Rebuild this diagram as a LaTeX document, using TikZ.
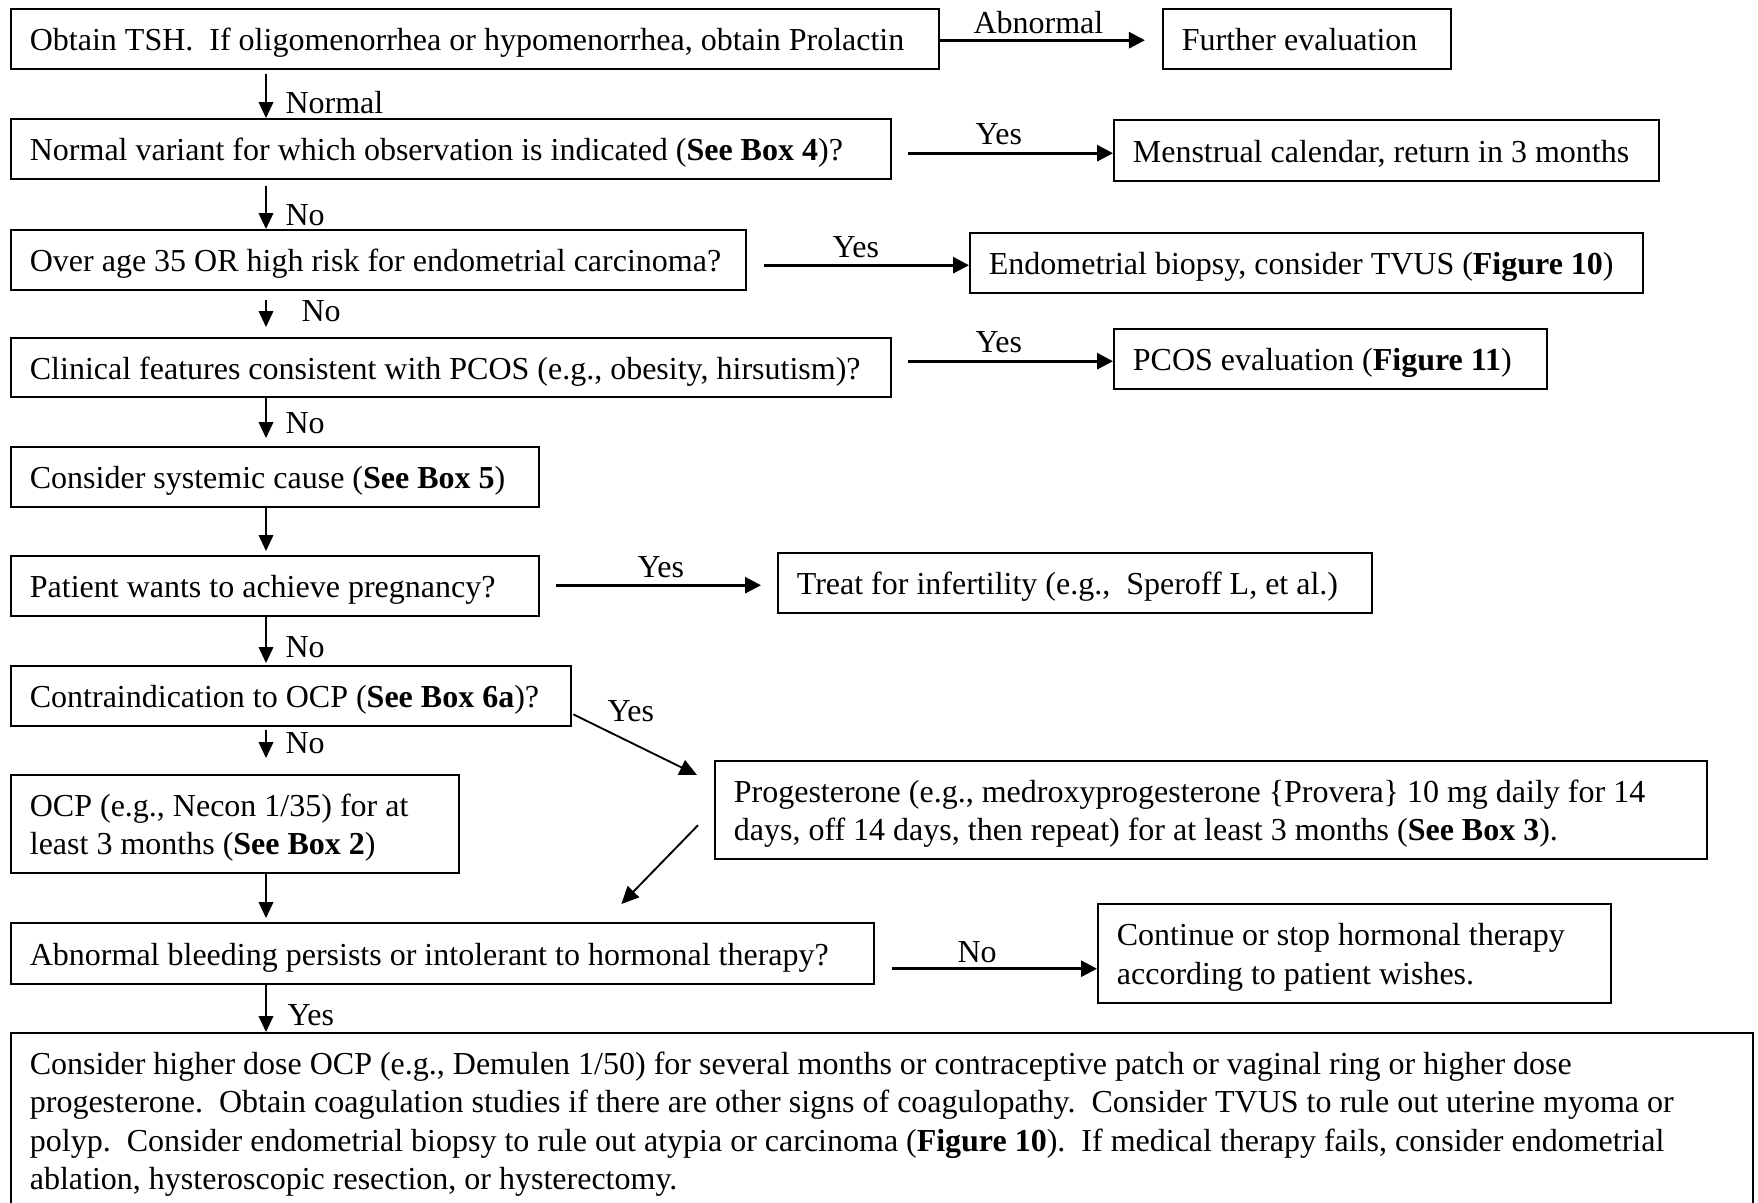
\documentclass[tikz,border=0pt]{standalone}
\usepackage{fontspec}
\setmainfont{Liberation Serif}
\usetikzlibrary{arrows.meta,calc}

\begin{document}
\begin{tikzpicture}[x=0.375pt, y=-0.375pt,
  txt/.style={font=\fontsize{12pt}{14.4pt}\selectfont},
  box/.style={txt, draw, line width=0.9pt, anchor=north west, inner xsep=7pt,
    inner ysep=0pt, align=left, text height=10pt, text depth=1.4pt,
    execute at begin node={\spaceskip=0pt\xspaceskip=0pt\frenchspacing\hyphenpenalty=10000}},
  twoline/.style={text height=8pt, text depth=13.8pt},
  lbl/.style={txt, anchor=base west, inner sep=0pt},
  varrow/.style={line width=0.6pt, -{Triangle[length=6pt, width=5.5pt]}},
  harrow/.style={line width=1.1pt, -{Triangle[length=6pt, width=6pt]}},
  darrow/.style={line width=0.7pt, -{Triangle[length=6.5pt, width=6pt]}}]

\fill[white] (0,0) rectangle (1758,1202);
\useasboundingbox (0,0) rectangle (1758,1202);

% main column
\node[box, text width=334pt, minimum height=22.5pt] (b1) at (10,8)
  {Obtain TSH.\ \ If oligomenorrhea or hypomenorrhea, obtain Prolactin};
\node[box, text width=316pt, minimum height=22.5pt] (b2) at (10,118)
  {Normal variant for which observation is indicated (\textbf{See Box 4})?};
\node[box, text width=261.625pt, minimum height=22.5pt] (b3) at (10,229)
  {Over age 35 OR high risk for endometrial carcinoma?};
\node[box, text width=316pt, minimum height=22.125pt] (b4) at (10,337)
  {Clinical features consistent with PCOS (e.g., obesity, hirsutism)?};
\node[box, text width=184pt, minimum height=22.5pt] (b5) at (10,446)
  {Consider systemic cause (\textbf{See Box 5})};
\node[box, text width=184pt, minimum height=22.5pt] (b6) at (10,555)
  {Patient wants to achieve pregnancy?};
\node[box, text width=196pt, minimum height=22.5pt] (b7) at (10,665)
  {Contraindication to OCP (\textbf{See Box 6a})?};
\node[box, twoline, text width=154pt, minimum height=36.75pt] (b8) at (10,774)
  {OCP (e.g., Necon 1/35) for at\\least 3 months (\textbf{See Box 2})};
\node[box, text width=309.625pt, minimum height=22.875pt] (b10) at (10,922)
  {Abnormal bleeding persists or intolerant to hormonal therapy?};
\node[box, text width=639.25pt, text height=15.4pt, text depth=80pt] (bF) at (10,1032)
  {Consider higher dose OCP (e.g., Demulen 1/50) for several months or contraceptive patch or vaginal ring or higher dose\\
   progesterone.\ \ Obtain coagulation studies if there are other signs of coagulopathy.\ \ Consider TVUS to rule out uterine myoma or\\
   polyp.\ \ Consider endometrial biopsy to rule out atypia or carcinoma (\textbf{Figure 10}).\ \ If medical therapy fails, consider endometrial\\
   ablation, hysteroscopic resection, or hysterectomy.};

% side outcomes
\node[box, text width=94pt, minimum height=22.5pt] (bFE) at (1162,8)
  {Further evaluation};
\node[box, text width=190.375pt, minimum height=22.875pt] (bMC) at (1113,119)
  {Menstrual calendar, return in 3 months};
\node[box, text width=238.375pt, minimum height=22.5pt] (bEB) at (969,232)
  {Endometrial biopsy, consider TVUS (\textbf{Figure 10})};
\node[box, text width=148.375pt, minimum height=22.5pt] (bPC) at (1113,328)
  {PCOS evaluation (\textbf{Figure 11})};
\node[box, text width=208.75pt, minimum height=22.5pt] (bTI) at (777,552)
  {Treat for infertility (e.g.,\ \ Speroff L, et al.)};
\node[box, twoline, text width=358pt, minimum height=36.75pt] (bPR) at (714,760)
  {Progesterone (e.g., medroxyprogesterone \{Provera\} 10 mg daily for 14\\days, off 14 days, then repeat) for at least 3 months (\textbf{See Box 3}).};
\node[box, twoline, text width=178.375pt, minimum height=37.125pt] (bCO) at (1097,903)
  {Continue or stop hormonal therapy\\according to patient wishes.};

% vertical connectors
\coordinate (spine) at (266,0);
\draw[varrow, shorten <=1.5pt] (b1.south -| spine) -- (b2.north -| spine);
\draw[varrow, shorten <=2.25pt] (b2.south -| spine) -- (b3.north -| spine);
\draw[varrow, shorten <=3.4pt, shorten >=3.75pt] (b3.south -| spine) -- (b4.north -| spine);
\draw[varrow, shorten >=3pt] (b4.south -| spine) -- (b5.north -| spine);
\draw[varrow, shorten >=1.5pt] (b5.south -| spine) -- (b6.north -| spine);
\draw[varrow, shorten >=0.75pt] (b6.south -| spine) -- (b7.north -| spine);
\draw[varrow, shorten <=1.1pt, shorten >=6pt] (b7.south -| spine) -- (b8.north -| spine);
\draw[varrow, shorten >=1.5pt] (b8.south -| spine) -- (b10.north -| spine);
\draw[varrow] (b10.south -| spine) -- (bF.north -| spine);

% horizontal connectors
\draw[harrow, shorten >=6.4pt] ($(b1.east)+(0,1)$) -- ($(bFE.west)+(0,1)$);
\draw[harrow, shorten <=6pt] ($(b2.east |- bMC.west)+(0,2.5)$) -- ($(bMC.west)+(0,2.5)$);
\draw[harrow, shorten <=6.4pt] ($(b3.east |- bEB.west)+(0,2)$) -- ($(bEB.west)+(0,2)$);
\draw[harrow, shorten <=6pt] ($(b4.east |- bPC.west)+(0,2)$) -- ($(bPC.west)+(0,2)$);
\draw[harrow, shorten <=6pt, shorten >=6pt] ($(b6.east |- bTI.west)+(0,2)$) -- ($(bTI.west)+(0,2)$);
\draw[harrow, shorten <=6.4pt] ($(b10.east)+(0,15)$) -- ($(bCO.west)+(0,15)$);

% diagonal connectors
\draw[darrow] ($(b7.south east)+(1,-13)$) -- ($(bPR.north west)+(-17,15)$);
\draw[darrow] ($(bPR.west)+(-16,15)$) -- ($(b10.north east)+(-254,-18)$);

% connector labels
\node[lbl] (lAbn) at (973,33) {Abnormal};
\node[lbl] (lNormal) at (285,113) {Normal};
\node[lbl] (lNo1) at (285,225) {No};
\node[lbl] (lNo2) at (301,321) {No};
\node[lbl] (lNo3) at (285,433) {No};
\node[lbl] (lNo4) at (285,657) {No};
\node[lbl] (lNo5) at (285,753) {No};
\node[lbl] (lYes1) at (975,144) {Yes};
\node[lbl] (lYes2) at (832,257) {Yes};
\node[lbl] (lYes3) at (975,352) {Yes};
\node[lbl] (lYes4) at (637,577) {Yes};
\node[lbl] (lYes5) at (607,721) {Yes};
\node[lbl] (lNo6) at (957,962) {No};
\node[lbl] (lYes6) at (287,1025) {Yes};
\end{tikzpicture}
\end{document}
